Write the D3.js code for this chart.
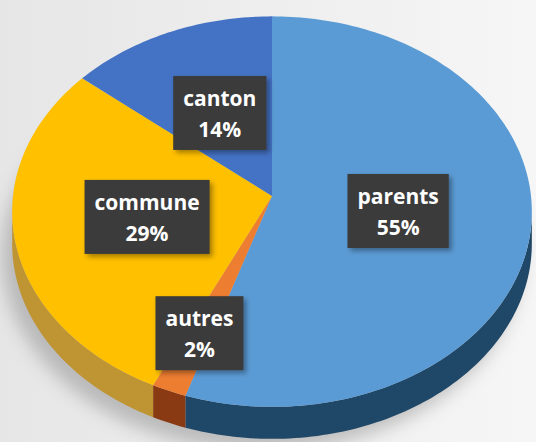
<!DOCTYPE html>
<html>
<head>
<meta charset="utf-8">
<script src="https://cdn.jsdelivr.net/npm/d3@7"></script>
<style>
  body { margin: 0; background: #f2f2f2; }
  #chart { width: 536px; height: 442px; }
</style>
</head>
<body>
<div id="chart"></div>
<script>
// data, clockwise from 12 o'clock
const categories = ["parents", "autres", "commune", "canton"];
const values = [55, 2, 29, 14];
const topColors = ["#5b9bd5", "#ed7d31", "#ffc000", "#4472c4"];
const sideColors = ["#1f4767", "#8a3a12", "#bf9432", "#2b4c86"];

const width = 536, height = 442;
// projected disc: centre of disc, half axes and a bit of perspective
const x0 = 272, y0 = 196, ax = 259, ay = 194, persp = 0.08, depth = 32;

const svg = d3.select("#chart").append("svg")
  .attr("width", width)
  .attr("height", height);

const defs = svg.append("defs");
const bg = defs.append("linearGradient").attr("id", "bg")
  .attr("x1", 0).attr("x2", 1).attr("y1", 0).attr("y2", 0);
bg.append("stop").attr("offset", "0%").attr("stop-color", "#e6e6e6");
bg.append("stop").attr("offset", "100%").attr("stop-color", "#f6f6f6");

defs.append("filter").attr("id", "blur")
  .attr("x", "-30%").attr("y", "-30%").attr("width", "160%").attr("height", "160%")
  .append("feGaussianBlur").attr("stdDeviation", 9);

const ds = defs.append("filter").attr("id", "boxshadow")
  .attr("x", "-20%").attr("y", "-20%").attr("width", "150%").attr("height", "150%");
ds.append("feDropShadow").attr("dx", 3).attr("dy", 3).attr("stdDeviation", 2.5)
  .attr("flood-color", "#000").attr("flood-opacity", 0.35);

svg.append("rect").attr("width", width).attr("height", height).attr("fill", "url(#bg)");

// disc point at angle a (0 = top, clockwise), radius fraction f
function pt(a, f = 1, dy = 0) {
  const u = f * Math.sin(a), v = -f * Math.cos(a);
  const w = 1 - persp * v;
  return [x0 + ax * u / w, y0 + ay * v / w + dy];
}
function sample(a0, a1, dy) {
  const n = Math.max(2, Math.ceil((a1 - a0) / 0.02));
  return d3.range(n + 1).map(k => pt(a0 + (a1 - a0) * k / n, 1, dy));
}

// soft shadow under the pie
svg.append("path")
  .attr("d", d3.line()(sample(0, 2 * Math.PI, depth + 12)) + "Z")
  .attr("transform", "translate(-10,0)")
  .attr("fill", "#8a8a8a").attr("opacity", 0.5)
  .attr("filter", "url(#blur)");

const pie = d3.pie().sort(null).value(d => d.value);
const arcs = pie(categories.map((c, i) => ({ name: c, value: values[i], i })));

// sides (front part only)
const front0 = Math.acos(-persp), front1 = 2 * Math.PI - Math.acos(-persp);
const sides = svg.append("g");
arcs.forEach(d => {
  const a0 = Math.max(d.startAngle, front0);
  const a1 = Math.min(d.endAngle, front1);
  if (a1 <= a0) return;
  const top = sample(a0, a1, 0);
  const bot = sample(a0, a1, depth).reverse();
  sides.append("path")
    .attr("d", d3.line()(top.concat(bot)) + "Z")
    .attr("fill", sideColors[d.data.i]);
});

// top faces
const tops = svg.append("g");
tops.selectAll("path")
  .data(arcs)
  .join("path")
  .attr("d", d => d3.line()([[x0, y0]].concat(sample(d.startAngle, d.endAngle, 0))) + "Z")
  .attr("fill", d => topColors[d.data.i]);

// labels
const labels = svg.append("g")
  .attr("font-family", "'Open Sans', 'DejaVu Sans', sans-serif")
  .attr("font-weight", "bold")
  .attr("font-size", "21px");

arcs.forEach(d => {
  const mid = (d.startAngle + d.endAngle) / 2;
  const f = d.value < 5 ? 0.72 : 0.49;
  const [x, y] = pt(mid, f);
  const g = labels.append("g").attr("transform", `translate(${x},${y})`);
  const box = g.append("rect").attr("fill", "#3a3a3a").attr("filter", "url(#boxshadow)");
  const t1 = g.append("text").attr("text-anchor", "middle").attr("fill", "#fff")
    .attr("y", -7).text(d.data.name);
  g.append("text").attr("text-anchor", "middle").attr("fill", "#fff")
    .attr("y", 24).text(d.data.value + "%");
  const w = Math.max(t1.node().getComputedTextLength(), 50) + 20;
  box.attr("x", -w / 2).attr("y", -37).attr("width", w).attr("height", 74);
});
</script>
</body>
</html>
